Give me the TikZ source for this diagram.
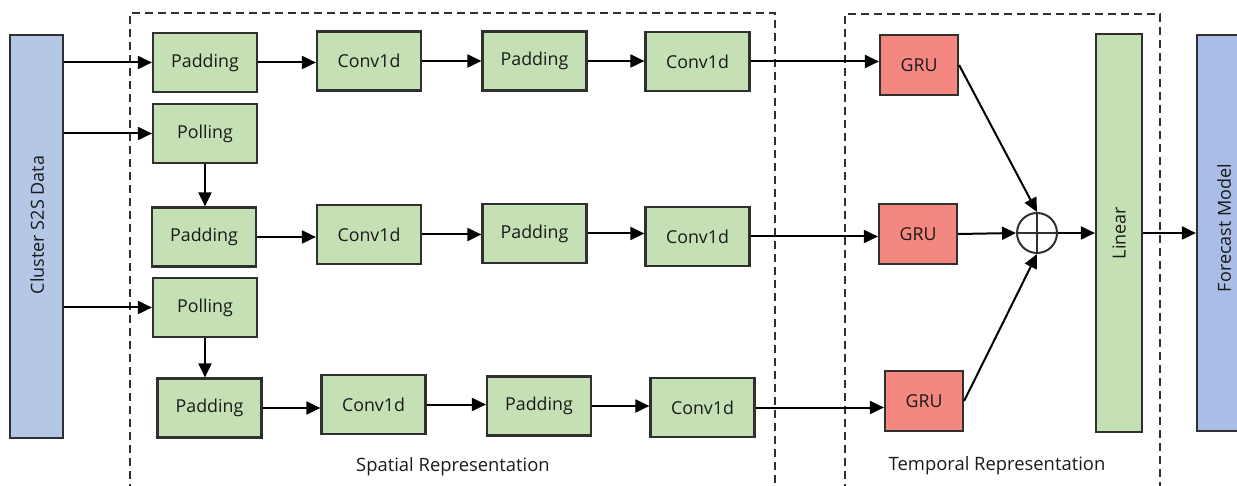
\documentclass[tikz,border=0pt]{standalone}
\usepackage{fontspec}
\setmainfont{Open Sans}
\usetikzlibrary{arrows.meta}
\definecolor{boxgreen}{HTML}{C5E0B4}
\definecolor{grured}{HTML}{F4877F}
\definecolor{inblue}{HTML}{B4C7E7}
\definecolor{outblue}{HTML}{A9BDE6}
\definecolor{edge}{HTML}{303030}
\definecolor{txt}{HTML}{1A1A1A}
\tikzset{
 blk/.style={draw=edge, line width=2.2pt, fill=boxgreen, minimum width=104pt, minimum height=59pt, inner sep=0pt, text=txt, font=\fontsize{17.8}{20}\selectfont},
 gru/.style={blk, fill=grured, minimum width=78pt, minimum height=60pt},
 tall/.style={draw=edge, line width=2.2pt, inner sep=0pt},
 vtext/.style={rotate=90, text=txt, font=\fontsize{18}{20}\selectfont},
 arr/.style={line width=2pt, draw=black, -{Triangle[length=14pt,width=13pt]}},
 region/.style={line width=2pt, dash pattern=on 8pt off 5pt, draw=edge},
 lbl/.style={text=txt, font=\fontsize{18.4}{20}\selectfont}
}
\begin{document}
\begin{tikzpicture}[x=1pt,y=-1pt]
\useasboundingbox (0,0) rectangle (1237,486);
% regions
\draw[region] (130,492) -- (130,13) -- (775,13) -- (775,492);
\draw[region] (845,492) -- (845,14) -- (1160,14) -- (1160,492);
\node[lbl] (sl) at (453,467) {Spatial Representation};
\node[lbl] (tl) at (997,466) {Temporal Representation};
% input / output
\node[tall, fill=inblue, minimum width=53pt, minimum height=403pt] (cl) at (36.5,236.5) {};
\node[vtext] (clt) at (37,225) {Cluster S2S Data};
\node[tall, fill=outblue, minimum width=54pt, minimum height=396pt] (fc) at (1224,233) {};
\node[vtext] (fct) at (1224,228) {Forecast Model};
\node[tall, fill=boxgreen, minimum width=46pt, minimum height=398pt] (lin) at (1119,233) {};
\node[vtext] (lint) at (lin.center) {Linear};
% row 1
\node[blk] (pa1) at (205,62.5) {Padding};
\node[blk] (cv1) at (369,61) {Conv1d};
\node[blk] (pb1) at (534.5,61) {Padding};
\node[blk] (cw1) at (697.5,61.5) {Conv1d};
\node[gru] (g1) at (919,65) {GRU};
% polling 1
\node[blk] (po1) at (205,133.5) {Polling};
% row 2
\node[blk] (pa2) at (204,237) {Padding};
\node[blk] (cv2) at (369,234.5) {Conv1d};
\node[blk] (pb2) at (534.5,233.5) {Padding};
\node[blk] (cw2) at (697.5,236.5) {Conv1d};
\node[gru] (g2) at (918,234) {GRU};
% polling 2
\node[blk] (po2) at (205,307.5) {Polling};
% row 3
\node[blk] (pa3) at (209.5,408) {Padding};
\node[blk] (cv3) at (373.5,404.5) {Conv1d};
\node[blk] (pb3) at (539,406) {Padding};
\node[blk] (cw3) at (702.5,407.5) {Conv1d};
\node[gru] (g3) at (924,401) {GRU};
% oplus
\node[draw=edge, line width=2pt, circle, minimum size=40pt, inner sep=0pt] (op) at (1037,233) {};
\draw[edge, line width=1.4pt] (op.north) -- (op.south) (op.west) -- (op.east);
% arrows from input
\draw[arr] (cl.east |- pa1.west) -- (pa1.west);
\draw[arr] (cl.east |- po1.west) -- (po1.west);
\draw[arr] (cl.east |- po2.west) -- (po2.west);
\draw[arr] (po1.south) -- (po1.south |- pa2.north);
\draw[arr] (po2.south) -- (po2.south |- pa3.north);
% chains
\draw[arr] (pa1.east) -- (pa1.east -| cv1.west);
\draw[arr] (cv1.east) -- (cv1.east -| pb1.west);
\draw[arr] (pb1.east) -- (pb1.east -| cw1.west);
\draw[arr] (cw1.east) -- (cw1.east -| g1.west);
\draw[arr] (pa2.east) -- (pa2.east -| cv2.west);
\draw[arr] (cv2.east) -- (cv2.east -| pb2.west);
\draw[arr] (pb2.east) -- (pb2.east -| cw2.west);
\draw[arr] (cw2.east) -- (cw2.east -| g2.west);
\draw[arr] (pa3.east) -- (pa3.east -| cv3.west);
\draw[arr] (cv3.east) -- (cv3.east -| pb3.west);
\draw[arr] (pb3.east) -- (pb3.east -| cw3.west);
\draw[arr] (cw3.east) -- (cw3.east -| g3.west);
% to oplus
\draw[arr] (g1.east) -- (op.north);
\draw[arr] (g2.east) -- (op.west);
\draw[arr] (g3.east) -- (op.south);
\draw[arr] (op.east) -- (op.east -| lin.west);
\draw[arr] (lin.east) -- (fc.west);
\end{tikzpicture}
\end{document}
